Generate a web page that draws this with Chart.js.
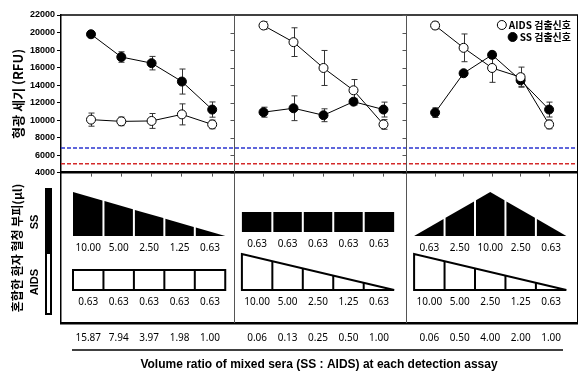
<!DOCTYPE html>
<html>
<head>
<meta charset="utf-8">
<script src="https://cdn.jsdelivr.net/npm/chart.js@4.4.1/dist/chart.umd.min.js"></script>
<style>
  body { margin: 0; background: #fff; }
  #fig { position: relative; width: 585px; height: 381px; }
  #fig canvas { position: absolute; left: 0; top: 0; }
</style>
</head>
<body>
<div id="fig">
  <canvas id="schemeChart" width="585" height="381"></canvas>
  <canvas id="signalChart" width="585" height="180"></canvas>
</div>
<script>
// Fluorescence signal (RFU) per assay panel: mean and error
var aidsMean1 = [10050, 9850, 9900, 10650, 9500];
var aidsErr1 = [750, 490, 850, 1200, 490];
var ssMean1 = [19800, 17200, 16500, 14400, 11200];
var ssErr1 = [150, 600, 770, 1430, 870];

var aidsMean2 = [20800, 18900, 15950, 13400, 9500];
var aidsErr2 = [430, 1640, 2000, 1230, 550];
var ssMean2 = [10900, 11350, 10550, 12100, 11200];
var ssErr2 = [570, 1415, 735, 380, 850];

var aidsMean3 = [20800, 18250, 15950, 14900, 9500];
var aidsErr3 = [415, 1585, 1640, 1150, 500];
var ssMean3 = [10850, 15350, 17450, 14550, 11200];
var ssErr3 = [550, 100, 380, 700, 850];

// cut-off lines
var cutoffBlue = 6800;
var cutoffRed = 5000;

// serum volumes (µl) in each well
var ssVolume1 = [10, 5, 2.5, 1.25, 0.63];
var aidsVolume1 = [0.63, 0.63, 0.63, 0.63, 0.63];
var ssVolume2 = [0.63, 0.63, 0.63, 0.63, 0.63];
var aidsVolume2 = [10, 5, 2.5, 1.25, 0.63];
var ssVolume3 = [0.63, 2.5, 10, 2.5, 0.63];
var aidsVolume3 = [10, 5, 2.5, 1.25, 0.63];

// volume ratio tick labels (SS : AIDS)
var ratioLabels1 = ['15.87', '7.94', '3.97', '1.98', '1.00'];
var ratioLabels2 = ['0.06', '0.13', '0.25', '0.50', '1.00'];
var ratioLabels3 = ['0.06', '0.50', '4.00', '2.00', '1.00'];
var ratioLabels = ratioLabels1.concat(ratioLabels2, ratioLabels3);

// layout of the three panels on a shared linear x axis
var X_MAX = 17.2;
var pointStart = [1.0, 6.75, 12.47];
var pointStep = [1.01, 1.0, 0.95];
var dividers = [5.77, 11.5];
var cellStart = [0.4, 6.03, 11.77];
var cellWidth = 1.015;

var KR = '"Noto Sans CJK KR", "Noto Sans", sans-serif';
var ARIAL = '"Liberation Sans", Arial, sans-serif';
var NOTO = '"Noto Sans", sans-serif';

function series(values, panel) {
  return values.map(function (v, i) {
    return { x: pointStart[panel] + i * pointStep[panel], y: v };
  });
}

function pointPositions() {
  var out = [];
  for (var p = 0; p < 3; p++) {
    for (var i = 0; i < 5; i++) out.push(pointStart[p] + i * pointStep[p]);
  }
  return out;
}

function cellCenters() {
  var out = [];
  for (var p = 0; p < 3; p++) {
    for (var i = 0; i < 5; i++) out.push(cellStart[p] + (i + 0.5) * cellWidth);
  }
  return out;
}

function signalSet(values, errors, panel, fill) {
  return {
    data: series(values, panel),
    errors: errors,
    borderColor: '#000',
    borderWidth: 1,
    pointRadius: 4.5,
    pointBorderWidth: 1,
    pointBorderColor: '#000',
    pointBackgroundColor: fill,
    tension: 0
  };
}

function cutoffSet(value, color) {
  return {
    data: [{ x: 0, y: value }, { x: X_MAX, y: value }],
    borderColor: color,
    borderWidth: 1.5,
    borderDash: [4, 2],
    pointRadius: 0
  };
}

var signalSets = [
  signalSet(aidsMean1, aidsErr1, 0, '#fff'),
  signalSet(ssMean1, ssErr1, 0, '#000'),
  signalSet(aidsMean2, aidsErr2, 1, '#fff'),
  signalSet(ssMean2, ssErr2, 1, '#000'),
  signalSet(aidsMean3, aidsErr3, 2, '#fff'),
  signalSet(ssMean3, ssErr3, 2, '#000'),
  cutoffSet(cutoffBlue, '#2b35d0'),
  cutoffSet(cutoffRed, '#d42a2a')
];

// error bars under the markers
var errorBars = {
  id: 'errorBars',
  beforeDatasetsDraw: function (chart) {
    var ctx = chart.ctx, ys = chart.scales.y;
    ctx.save();
    ctx.strokeStyle = '#333';
    ctx.lineWidth = 1;
    chart.data.datasets.forEach(function (ds, i) {
      if (!ds.errors) return;
      chart.getDatasetMeta(i).data.forEach(function (pt, j) {
        var v = ds.data[j].y, e = ds.errors[j];
        var top = ys.getPixelForValue(v + e), bot = ys.getPixelForValue(v - e);
        var x = Math.round(pt.x) + 0.5;
        ctx.beginPath();
        ctx.moveTo(x, top); ctx.lineTo(x, bot);
        ctx.moveTo(x - 3, top); ctx.lineTo(x + 3, top);
        ctx.moveTo(x - 3, bot); ctx.lineTo(x + 3, bot);
        ctx.stroke();
      });
    });
    ctx.restore();
  }
};

var signalFrame = {
  id: 'signalFrame',
  afterDraw: function (chart) {
    var ctx = chart.ctx, a = chart.chartArea, xs = chart.scales.x, ys = chart.scales.y;
    ctx.save();
    ctx.strokeStyle = '#000';
    ctx.lineWidth = 1.5;
    ctx.beginPath(); ctx.moveTo(a.left, a.top); ctx.lineTo(a.right + 1, a.top); ctx.stroke();
    ctx.lineWidth = 1;
    ctx.beginPath(); ctx.moveTo(a.right + 0.5, a.top); ctx.lineTo(a.right + 0.5, a.bottom); ctx.stroke();
    // panel dividers with their own tick marks
    ctx.strokeStyle = '#555';
    dividers.forEach(function (d) {
      var px = Math.round(xs.getPixelForValue(d)) + 0.5;
      ctx.beginPath();
      ctx.moveTo(px, a.top); ctx.lineTo(px, a.bottom);
      ys.ticks.forEach(function (t) {
        var py = Math.round(ys.getPixelForValue(t.value)) + 0.5;
        ctx.moveTo(px - 4, py); ctx.lineTo(px, py);
      });
      ctx.stroke();
    });
    // legend
    ctx.font = 'bold 10px ' + KR;
    ctx.textAlign = 'right';
    ctx.textBaseline = 'middle';
    ctx.strokeStyle = '#000';
    [{ label: 'AIDS 검출신호', fill: '#fff', y: a.top + 10 },
     { label: 'SS 검출신호', fill: '#000', y: a.top + 22 }].forEach(function (it) {
      var tx = a.right - 6;
      ctx.fillStyle = '#000';
      ctx.fillText(it.label, tx, it.y);
      var cx = tx - ctx.measureText(it.label).width - 7;
      ctx.beginPath();
      ctx.arc(cx, it.y, 4.5, 0, Math.PI * 2);
      ctx.fillStyle = it.fill;
      ctx.fill();
      ctx.stroke();
    });
    ctx.restore();
  }
};

new Chart(document.getElementById('signalChart'), {
  type: 'line',
  data: { datasets: signalSets },
  options: {
    responsive: false,
    animation: false,
    layout: { padding: { top: 15, right: 8, left: 0, bottom: 0 } },
    scales: {
      x: {
        type: 'linear',
        min: 0,
        max: X_MAX,
        afterBuildTicks: function (s) {
          s.ticks = pointPositions().map(function (v) { return { value: v }; });
        },
        afterFit: function (s) { s.height = 7; },
        ticks: { display: false },
        grid: { drawOnChartArea: false, tickLength: 4, color: '#555' },
        border: { color: '#000', width: 2.5 }
      },
      y: {
        min: 4000,
        max: 22000,
        ticks: {
          stepSize: 2000,
          color: '#000',
          padding: 2,
          font: { family: ARIAL, size: 9, weight: 'bold' },
          callback: function (v) { return String(v); }
        },
        grid: { drawOnChartArea: false, tickLength: 4, color: '#000' },
        border: { color: '#000', width: 1.5 },
        afterFit: function (s) { s.width = 61; },
        title: {
          display: true,
          text: '형광 세기 (RFU)',
          color: '#000',
          padding: { top: 10, bottom: 0 },
          font: { family: KR, size: 13, weight: 'bold' }
        }
      }
    },
    plugins: { legend: { display: false }, tooltip: { enabled: false } }
  },
  plugins: [errorBars, signalFrame]
});

// schematic of the serum volumes in each well
var rows = [
  { panel: 0, values: ssVolume1, solid: true },
  { panel: 0, values: aidsVolume1, solid: false },
  { panel: 1, values: ssVolume2, solid: true },
  { panel: 1, values: aidsVolume2, solid: false },
  { panel: 2, values: ssVolume3, solid: true },
  { panel: 2, values: aidsVolume3, solid: false }
];
var rowGeom = {
  solid: { boxBase: 9.1, shapeBase: 8.7, shapeHeight: 4.4 },
  open: { boxBase: 3.3, shapeBase: 3.3, shapeHeight: 3.6 }
};
var boxHeight = 2;

function shapeOf(values) {
  if (values.every(function (v) { return v === values[0]; })) return 'box';
  var top = values.indexOf(Math.max.apply(null, values));
  return (top > 0 && top < values.length - 1) ? 'peak' : 'wedge';
}

function drawRow(ctx, xs, ys, row) {
  var kind = shapeOf(row.values);
  var g = row.solid ? rowGeom.solid : rowGeom.open;
  var base = kind === 'box' ? g.boxBase : g.shapeBase;
  var height = kind === 'box' ? boxHeight : g.shapeHeight;
  var n = row.values.length;
  var bounds = [];
  for (var i = 0; i <= n; i++) bounds.push(xs.getPixelForValue(cellStart[row.panel] + i * cellWidth));
  var x0 = bounds[0], x1 = bounds[n], mid = (x0 + x1) / 2;
  var yb = ys.getPixelForValue(base);
  var H = yb - ys.getPixelForValue(base + height);
  function topAt(x) {
    var t = (x - x0) / (x1 - x0);
    var h = kind === 'box' ? 1 : kind === 'peak' ? 1 - Math.abs(2 * t - 1) : 1 - t;
    return yb - H * h;
  }
  if (row.solid) {
    ctx.fillStyle = '#000';
    for (var k = 0; k < n; k++) {
      var xa = bounds[k] + (k ? 1 : 0), xb = bounds[k + 1] - (k < n - 1 ? 1 : 0);
      ctx.beginPath();
      ctx.moveTo(xa, yb);
      ctx.lineTo(xa, topAt(xa));
      if (kind === 'peak' && mid > xa && mid < xb) ctx.lineTo(mid, topAt(mid));
      ctx.lineTo(xb, topAt(xb));
      ctx.lineTo(xb, yb);
      ctx.closePath();
      ctx.fill();
    }
  } else {
    ctx.strokeStyle = '#000';
    ctx.lineWidth = 2;
    ctx.lineJoin = 'miter';
    ctx.miterLimit = 2;
    ctx.fillStyle = '#fff';
    ctx.beginPath();
    ctx.moveTo(x0, yb);
    ctx.lineTo(x0, topAt(x0));
    if (kind === 'peak') ctx.lineTo(mid, topAt(mid));
    ctx.lineTo(x1, topAt(x1));
    ctx.lineTo(x1, yb);
    ctx.closePath();
    ctx.fill();
    ctx.stroke();
    ctx.beginPath();
    for (var m = 1; m < n; m++) {
      ctx.moveTo(bounds[m], yb);
      ctx.lineTo(bounds[m], topAt(bounds[m]));
    }
    ctx.stroke();
  }
  ctx.fillStyle = '#000';
  ctx.font = '10px ' + NOTO;
  ctx.textAlign = 'center';
  ctx.textBaseline = 'middle';
  row.values.forEach(function (v, j) {
    ctx.fillText(v.toFixed(2), (bounds[j] + bounds[j + 1]) / 2, yb + 12);
  });
}

var schematic = {
  id: 'schematic',
  afterDraw: function (chart) {
    var ctx = chart.ctx, a = chart.chartArea, xs = chart.scales.x, ys = chart.scales.y;
    ctx.save();
    ctx.strokeStyle = '#555';
    ctx.lineWidth = 1;
    ctx.beginPath();
    dividers.forEach(function (d) {
      var px = Math.round(xs.getPixelForValue(d)) + 0.5;
      ctx.moveTo(px, a.top); ctx.lineTo(px, a.bottom);
    });
    ctx.stroke();
    ctx.strokeStyle = '#000';
    ctx.beginPath();
    ctx.moveTo(a.right + 0.5, a.top); ctx.lineTo(a.right + 0.5, a.bottom + 1);
    ctx.stroke();

    rows.forEach(function (row) { drawRow(ctx, xs, ys, row); });

    // SS / AIDS key bar
    ctx.fillStyle = '#000';
    ctx.fillRect(a.left - 16, a.top + 15, 7, 65);
    ctx.lineWidth = 2;
    ctx.strokeStyle = '#000';
    ctx.fillStyle = '#fff';
    ctx.fillRect(a.left - 15, a.top + 80, 5, 61);
    ctx.strokeRect(a.left - 15, a.top + 80, 5, 61);
    ctx.fillStyle = '#000';
    ctx.font = 'bold 11px ' + ARIAL;
    ctx.textAlign = 'center';
    ctx.textBaseline = 'middle';
    [['SS', a.top + 49], ['AIDS', a.top + 109]].forEach(function (t) {
      ctx.save();
      ctx.translate(a.left - 26, t[1]);
      ctx.rotate(-Math.PI / 2);
      ctx.fillText(t[0], 0, 0);
      ctx.restore();
    });

    // rule under the ratio labels
    ctx.lineWidth = 1.5;
    ctx.beginPath();
    ctx.moveTo(a.left + 11, a.bottom + 27);
    ctx.lineTo(a.right - 14, a.bottom + 27);
    ctx.stroke();
    ctx.restore();
  }
};

new Chart(document.getElementById('schemeChart'), {
  type: 'scatter',
  data: { datasets: [] },
  options: {
    responsive: false,
    animation: false,
    layout: { padding: { top: 173, right: 8, left: 0, bottom: 0 } },
    scales: {
      x: {
        type: 'linear',
        min: 0,
        max: X_MAX,
        afterBuildTicks: function (s) {
          s.ticks = cellCenters().map(function (v) { return { value: v }; });
        },
        afterFit: function (s) { s.height = 58; },
        ticks: {
          autoSkip: false,
          maxRotation: 0,
          padding: 9,
          color: '#000',
          font: { family: NOTO, size: 10 },
          callback: function (v, i) { return ratioLabels[i]; }
        },
        grid: { display: false, drawTicks: false },
        border: { color: '#000', width: 2.5 },
        title: {
          display: true,
          text: 'Volume ratio of mixed sera (SS : AIDS) at each detection assay',
          color: '#000',
          padding: { top: 0, bottom: 9 },
          font: { family: ARIAL, size: 12, weight: 'bold' }
        }
      },
      y: {
        min: 0,
        max: 15,
        ticks: { display: false },
        grid: { display: false, drawTicks: false },
        border: { color: '#000', width: 1.5 },
        afterFit: function (s) { s.width = 61; },
        title: {
          display: true,
          text: '혼합한 환자 혈청 부피(μl)',
          color: '#000',
          padding: { top: 10, bottom: 0 },
          font: { family: KR, size: 12, weight: 'bold' }
        }
      }
    },
    plugins: { legend: { display: false }, tooltip: { enabled: false } }
  },
  plugins: [schematic]
});
</script>
</body>
</html>
